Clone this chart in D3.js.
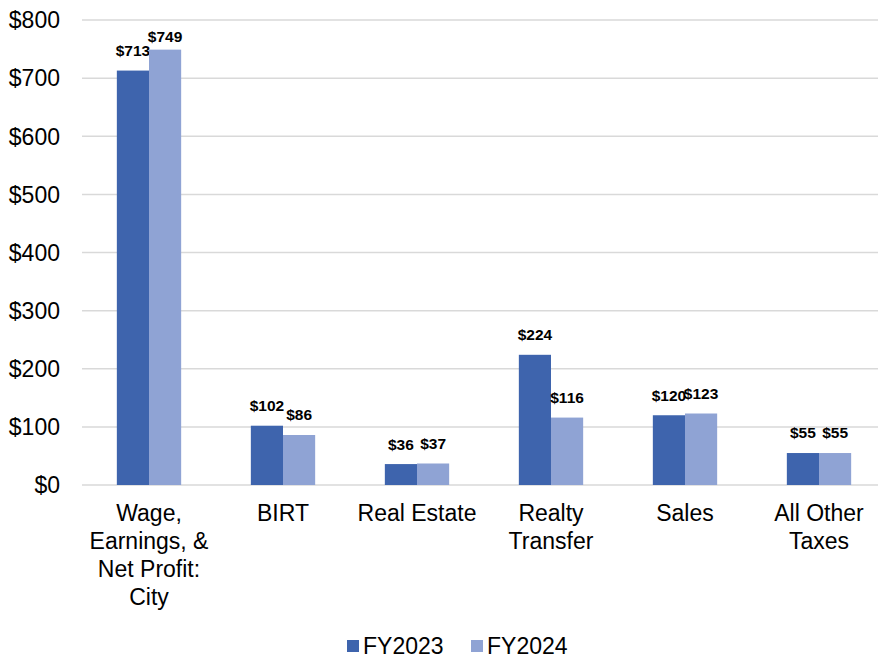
<!DOCTYPE html>
<html>
<head>
<meta charset="utf-8">
<script src="https://cdn.jsdelivr.net/npm/d3@7"></script>
<style>
  body { margin: 0; background: #fff; }
  svg { display: block; font-family: "Liberation Sans", Arial, sans-serif; }
</style>
</head>
<body>
<div id="chart"></div>
<script>
const categories = ["Wage, Earnings, & Net Profit: City", "BIRT", "Real Estate", "Realty Transfer", "Sales", "All Other Taxes"];
const categoryLines = [["Wage,", "Earnings, &", "Net Profit:", "City"], ["BIRT"], ["Real Estate"], ["Realty", "Transfer"], ["Sales"], ["All Other", "Taxes"]];
const seriesNames = ["FY2023", "FY2024"];
const fy2023 = [713, 102, 36, 224, 120, 55];
const fy2024 = [749, 86, 37, 116, 123, 55];
const yTicks = [0, 100, 200, 300, 400, 500, 600, 700, 800];
const colors = ["#3E64AD", "#8FA3D4"];

const width = 878;
const height = 658;

const svg = d3.select("#chart").append("svg")
    .attr("width", width)
    .attr("height", height);

const x0 = d3.scaleBand().domain(categories).range([82, 886]).paddingInner(0.52).paddingOuter(0.26);
const x1 = d3.scaleBand().domain(seriesNames).range([0, x0.bandwidth()]);
const y = d3.scaleLinear().domain([0, 800]).range([485, 20]);

// gridlines
svg.append("g").selectAll("line")
    .data(yTicks)
    .join("line")
    .attr("x1", 82).attr("x2", width)
    .attr("y1", d => y(d)).attr("y2", d => y(d))
    .attr("stroke", "#d9d9d9")
    .attr("stroke-width", 1.5);

// y labels
svg.append("g").selectAll("text")
    .data(yTicks)
    .join("text")
    .attr("x", 60)
    .attr("y", d => y(d))
    .attr("dy", "0.36em")
    .attr("text-anchor", "end")
    .attr("font-size", 23)
    .attr("fill", "#000")
    .text(d => "$" + d);

const rows = categories.map((c, i) => ({ cat: c, values: [fy2023[i], fy2024[i]] }));

const groups = svg.append("g").selectAll("g")
    .data(rows)
    .join("g")
    .attr("transform", d => `translate(${x0(d.cat)},0)`);

const bars = groups.selectAll("g")
    .data(d => d.values.map((v, i) => ({ key: seriesNames[i], value: v, i })))
    .join("g");

bars.append("rect")
    .attr("x", d => x1(d.key))
    .attr("y", d => y(d.value))
    .attr("width", x1.bandwidth())
    .attr("height", d => y(0) - y(d.value))
    .attr("fill", d => colors[d.i]);

// value labels, kept inside the plot top like excel does
bars.append("text")
    .attr("x", d => x1(d.key) + x1.bandwidth() / 2)
    .attr("y", d => Math.max(y(d.value) - 20, 37))
    .attr("dy", "0.35em")
    .attr("text-anchor", "middle")
    .attr("font-size", 15.5)
    .attr("font-weight", "bold")
    .attr("fill", "#000")
    .text(d => "$" + d.value);

// category labels
const catLabels = svg.append("g").selectAll("text")
    .data(rows)
    .join("text")
    .attr("x", d => x0(d.cat) + x0.bandwidth() / 2)
    .attr("y", 521)
    .attr("text-anchor", "middle")
    .attr("font-size", 23)
    .attr("fill", "#000");

catLabels.selectAll("tspan")
    .data((d, i) => categoryLines[i])
    .join("tspan")
    .attr("x", function () { return d3.select(this.parentNode).attr("x"); })
    .attr("dy", (d, i) => i === 0 ? 0 : 28)
    .text(d => d);

// legend
const legend = svg.append("g").attr("transform", "translate(347,646)");
const legendX = [0, 124];
seriesNames.forEach((s, i) => {
    const g = legend.append("g").attr("transform", `translate(${legendX[i]},0)`);
    g.append("rect").attr("x", 0).attr("y", -6).attr("width", 12).attr("height", 12).attr("fill", colors[i]);
    g.append("text").attr("x", 16).attr("y", 0).attr("dy", "0.36em")
        .attr("font-size", 23).attr("fill", "#000").text(s);
});
</script>
</body>
</html>
